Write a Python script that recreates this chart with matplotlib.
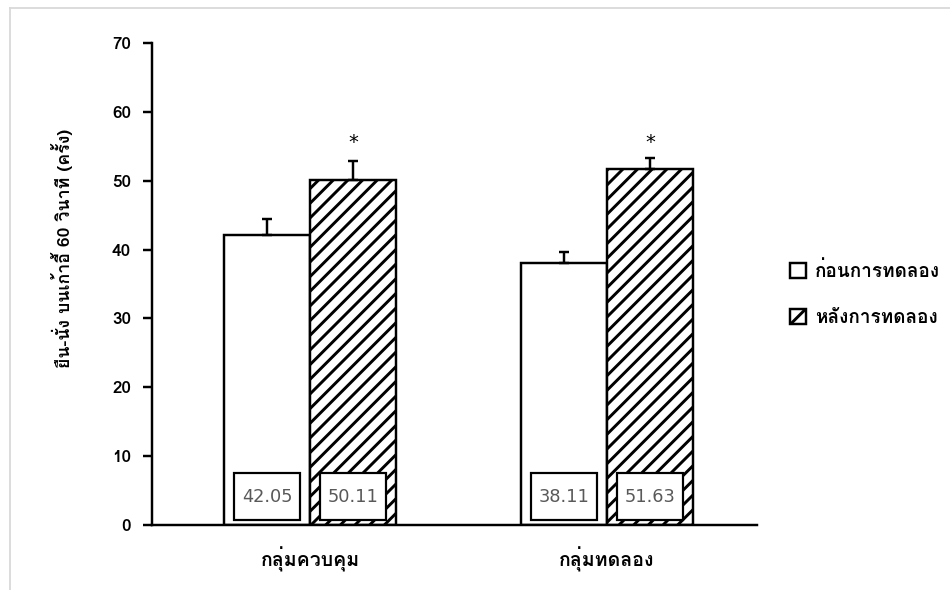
import numpy as np
import matplotlib
matplotlib.use("Agg")
import matplotlib.pyplot as plt
from matplotlib import font_manager
from matplotlib.ft2font import FT2Font
from matplotlib.patches import Patch, Rectangle

# sit-to-stand scores, before / after the program
groups = ['กลุ่มควบคุม', 'กลุ่มทดลอง']
before = [42.05, 38.11]
after = [50.11, 51.63]
before_sd = [2.45, 1.6]
after_sd = [2.7, 1.6]
series_names = ['ก่อนการทดลอง', 'หลังการทดลอง']
ylabel = 'ยืน-นั่ง บนเก้าอี้ 60 วินาที (ครั้ง)'


def find_thai_font():
    # look for any installed font that covers the Thai block
    for f in font_manager.fontManager.ttflist:
        try:
            cmap = FT2Font(f.fname).get_charmap()
        except Exception:
            continue
        if 0x0E01 in cmap and 0x0E48 in cmap:
            return f.name
    return None


thai = find_thai_font()
fams = [thai, 'DejaVu Sans'] if thai else ['DejaVu Sans']
plt.rcParams['font.family'] = fams
plt.rcParams['hatch.linewidth'] = 2.4

DPI = 88
fig = plt.figure(figsize=(950 / DPI, 590 / DPI), dpi=DPI)
ax = fig.add_axes([152 / 950, 1 - 525 / 590, (757 - 152) / 950, (525 - 43) / 590])

x = np.arange(len(groups))
w = 0.29
ax.bar(x - w / 2, before, w, color='white', edgecolor='black', linewidth=2, zorder=2)
ax.bar(x + w / 2, after, w, color='white', edgecolor='black', linewidth=2,
       hatch='//', zorder=2)

ax.errorbar(x - w / 2, before, yerr=[np.zeros(2), before_sd], fmt='none',
            ecolor='black', elinewidth=2, capsize=4, capthick=2, zorder=3)
ax.errorbar(x + w / 2, after, yerr=[np.zeros(2), after_sd], fmt='none',
            ecolor='black', elinewidth=2, capsize=4, capthick=2, zorder=3)

# significance stars above the post-test bars
for xi in x + w / 2:
    ax.text(xi, 55.6, '*', ha='center', va='center', fontsize=16,
            family='DejaVu Sans')

# value boxes at the foot of each bar
for xs, vals in ((x - w / 2, before), (x + w / 2, after)):
    for xi, v in zip(xs, vals):
        ax.add_patch(Rectangle((xi - 0.11, 0.75), 0.22, 6.8, facecolor='white',
                               edgecolor='black', linewidth=1.8, zorder=4))
        ax.text(xi, 4.1, f'{v:.2f}', ha='center', va='center', fontsize=14.5,
                color='#595959', family='DejaVu Sans', zorder=5)

ax.set_xlim(-0.532, 1.505)
ax.set_ylim(0, 70)
ax.set_yticks(np.arange(0, 71, 10))
ax.set_xticks(x)
ax.set_xticklabels(groups, fontsize=16, fontweight='bold')
ax.tick_params(axis='x', length=0, pad=18)
ax.tick_params(axis='y', length=7, width=2, direction='out', pad=10,
               labelsize=14)
for lab in ax.get_yticklabels():
    lab.set_fontweight('bold')
for side in ('top', 'right'):
    ax.spines[side].set_visible(False)
for side in ('left', 'bottom'):
    ax.spines[side].set_linewidth(2)

fig.text(62 / 950, 1 - 248 / 590, ylabel, rotation=90, ha='center', va='center',
         fontsize=14.5, fontweight='bold')

handles = [Patch(facecolor='white', edgecolor='black', linewidth=2),
           Patch(facecolor='white', edgecolor='black', linewidth=2, hatch='/')]
fig.legend(handles, series_names, loc='center left',
           bbox_to_anchor=(773 / 950, 1 - 294 / 590), frameon=False,
           handlelength=0.85, handleheight=0.85, handletextpad=0.45,
           labelspacing=1.5, prop={'size': 15.5, 'weight': 'bold'})

# thin grey chart border
fig.add_artist(plt.Line2D([10 / 950, 10 / 950], [0, 1 - 8 / 590], color='#d9d9d9',
                          linewidth=1.5, transform=fig.transFigure))
fig.add_artist(plt.Line2D([10 / 950, 1], [1 - 8 / 590, 1 - 8 / 590], color='#d9d9d9',
                          linewidth=1.5, transform=fig.transFigure))

fig.savefig('out.png', dpi=DPI, facecolor='white')
